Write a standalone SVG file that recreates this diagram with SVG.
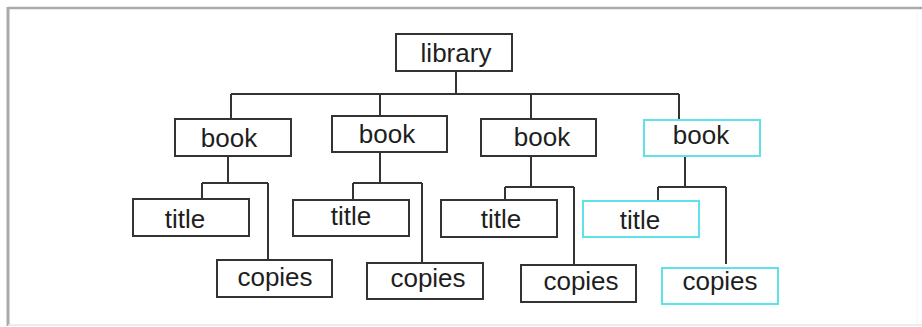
<svg xmlns="http://www.w3.org/2000/svg" width="922" height="327" viewBox="0 0 922 327">
<style>
.box{fill:#fff;stroke:#333;stroke-width:2}
.hl{fill:#fff;stroke:#5fe3ea;stroke-width:2}
.t{font-family:"Liberation Sans",Arial,sans-serif;font-size:26px;fill:#1e1e1e;text-anchor:middle}
.c{fill:none;stroke:#333;stroke-width:2}
.frame{fill:none;stroke:#aaa}
</style>
<rect x="0" y="0" width="922" height="327" fill="#fff"/>
<g id="frame">
<line class="frame" x1="8" y1="8" x2="922" y2="8" stroke-width="2.5"/>
<line class="frame" x1="8" y1="7" x2="8" y2="326" stroke-width="3"/>
<line x1="8" y1="325" x2="922" y2="325" stroke="#e6e6e6" stroke-width="1.5"/>
<line x1="917" y1="9" x2="917" y2="325" stroke="#f4f4f4" stroke-width="1"/>
</g>
<g id="connectors">
<path class="c" d="M456 71V94M231 94H679M231 94V119M380 94V116M531 94V119M679 94V120"/>
<path class="c" d="M228 156V183M202 183H268M202 183V199M268 183V260"/>
<path class="c" d="M380 152V183M353 183H422M353 183V200M422 183V263"/>
<path class="c" d="M531 156V187M505 187H574M505 187V200M574 187V265"/>
<path class="c" d="M685 156V187M658 187H726M658 187V202M726 187V264"/>
</g>
<g id="library"><rect class="box" x="396" y="34" width="116" height="37"/><text class="t" x="456" y="62">library</text></g>
<g id="book1"><rect class="box" x="175" y="119" width="116" height="37"/><text class="t" x="229" y="147">book</text></g>
<g id="book2"><rect class="box" x="332" y="116" width="115" height="36"/><text class="t" x="387" y="143">book</text></g>
<g id="book3"><rect class="box" x="481" y="119" width="115" height="37"/><text class="t" x="542" y="146">book</text></g>
<g id="book4"><rect class="hl" x="644" y="120" width="116" height="36"/><text class="t" x="701" y="144">book</text></g>
<g id="title1"><rect class="box" x="133" y="199" width="116" height="37"/><text class="t" x="185" y="228">title</text></g>
<g id="title2"><rect class="box" x="293" y="200" width="116" height="36"/><text class="t" x="351" y="225">title</text></g>
<g id="title3"><rect class="box" x="441" y="200" width="116" height="37"/><text class="t" x="501" y="228">title</text></g>
<g id="title4"><rect class="hl" x="583" y="201" width="116" height="36"/><text class="t" x="640" y="229">title</text></g>
<g id="copies1"><rect class="box" x="217" y="260" width="115" height="37"/><text class="t" x="275" y="286">copies</text></g>
<g id="copies2"><rect class="box" x="367" y="263" width="116" height="36"/><text class="t" x="428" y="287">copies</text></g>
<g id="copies3"><rect class="box" x="521" y="265" width="115" height="37"/><text class="t" x="581" y="290">copies</text></g>
<g id="copies4"><rect class="hl" x="662" y="268" width="116" height="36"/><text class="t" x="720" y="290">copies</text></g>
</svg>
